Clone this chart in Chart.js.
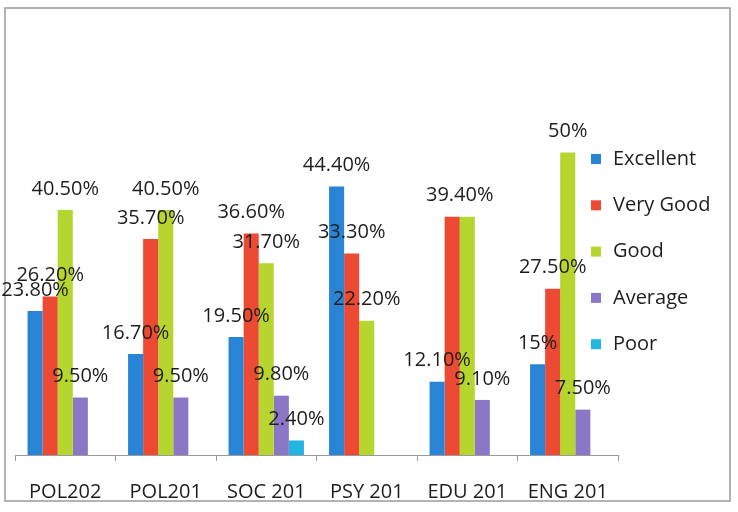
<!DOCTYPE html>
<html>
<head>
<meta charset="utf-8">
<script src="https://cdn.jsdelivr.net/npm/chart.js@4/dist/chart.umd.min.js"></script>
<style>
  html, body { margin: 0; padding: 0; background: #fff; }
  canvas { display: block; }
</style>
</head>
<body>
<canvas id="chart" width="738" height="512"></canvas>
<script>
const categories = ['POL202', 'POL201', 'SOC 201', 'PSY 201', 'EDU 201', 'ENG 201'];
const excellent = [23.8, 16.7, 19.5, 44.4, 12.1, 15];
const veryGood = [26.2, 35.7, 36.6, 33.3, 39.4, 27.5];
const good = [40.5, 40.5, 31.7, 22.2, 39.4, 50];
const average = [9.5, 9.5, 9.8, null, 9.1, 7.5];
const poor = [null, null, 2.4, null, null, null];

const FONT = '"Open Sans", "Liberation Sans", sans-serif';
const TEXT = '#1e1e1e';

function pct(v) {
  return Number.isInteger(v) ? v + '%' : v.toFixed(2) + '%';
}

// frame around the whole picture, like the pasted excel chart
const framePlugin = {
  id: 'frame',
  beforeDraw(chart) {
    const ctx = chart.ctx;
    ctx.save();
    ctx.fillStyle = '#fff';
    ctx.fillRect(0, 0, chart.width, chart.height);
    ctx.strokeStyle = '#9a9a9a';
    ctx.lineWidth = 1.5;
    ctx.strokeRect(5, 8, 725, 493);
    ctx.restore();
  }
};

const valueLabels = {
  id: 'valueLabels',
  afterDatasetsDraw(chart) {
    const ctx = chart.ctx;
    const sets = chart.data.datasets;
    ctx.save();
    ctx.font = '20px ' + FONT;
    ctx.fillStyle = TEXT;
    ctx.textAlign = 'center';
    ctx.textBaseline = 'bottom';
    sets.forEach((ds, i) => {
      chart.getDatasetMeta(i).data.forEach((bar, j) => {
        const v = ds.data[j];
        if (v === null || v === undefined) return;
        // same value as the bar before it: already written once, between both
        if (i > 0 && sets[i - 1].data[j] === v) return;
        let x = bar.x;
        const next = sets[i + 1];
        if (next && next.data[j] === v) {
          x = (x + chart.getDatasetMeta(i + 1).data[j].x) / 2;
        }
        ctx.fillText(pct(v), x, bar.y - 11);
      });
    });
    ctx.restore();
  }
};

const sideLegend = {
  id: 'sideLegend',
  afterDraw(chart) {
    const ctx = chart.ctx;
    ctx.save();
    ctx.font = '20px ' + FONT;
    ctx.textBaseline = 'middle';
    ctx.textAlign = 'left';
    chart.data.datasets.forEach((ds, i) => {
      const y = 159 + i * 46.3;
      ctx.fillStyle = ds.backgroundColor;
      ctx.fillRect(591, y - 5, 10, 10);
      ctx.fillStyle = TEXT;
      ctx.fillText(ds.label, 613, y);
    });
    ctx.restore();
  }
};

new Chart(document.getElementById('chart'), {
  type: 'bar',
  data: {
    labels: categories,
    datasets: [
      { label: 'Excellent', data: excellent, backgroundColor: '#2a84d6' },
      { label: 'Very Good', data: veryGood, backgroundColor: '#ec4a32' },
      { label: 'Good', data: good, backgroundColor: '#b6d52e' },
      { label: 'Average', data: average, backgroundColor: '#8a78c6' },
      { label: 'Poor', data: poor, backgroundColor: '#22b6e0' },
    ],
  },
  options: {
    responsive: false,
    animation: false,
    layout: { padding: { left: 15, right: 120, top: 92, bottom: 0 } },
    datasets: { bar: { categoryPercentage: 0.75, barPercentage: 1 } },
    plugins: {
      legend: { display: false },
      tooltip: { enabled: false },
    },
    scales: {
      x: {
        grid: { drawOnChartArea: false, color: '#9a9a9a', tickLength: 6 },
        border: { color: '#9a9a9a' },
        ticks: { color: TEXT, padding: 19, font: { size: 20, family: FONT } },
        afterFit(scale) { scale.height = 57; },
      },
      y: { display: false, min: 0, max: 60 },
    },
  },
  plugins: [framePlugin, valueLabels, sideLegend],
});
</script>
</body>
</html>
